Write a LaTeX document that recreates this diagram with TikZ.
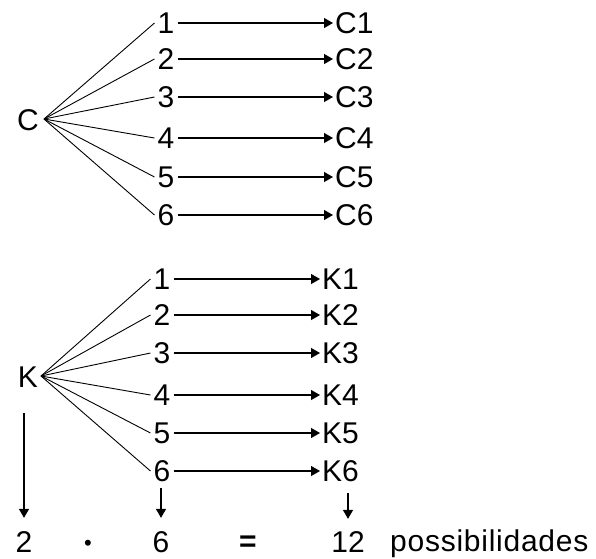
\documentclass[tikz,border=0pt]{standalone}
\usepackage{fontspec}
\setmainfont{Liberation Sans}
\usetikzlibrary{arrows.meta}
\begin{document}
\begin{tikzpicture}[x=1pt,y=-1pt,
 every node/.style={font=\fontsize{30}{36}\selectfont, inner sep=0pt},
 num/.style={inner xsep=3pt, inner ysep=4pt},
 lab/.style={anchor=west, inner sep=2pt},
 fan/.style={line width=0.9pt},
 arr/.style={line width=1.2pt, -{Triangle[length=9pt,width=10pt]}},
 bl/.style={anchor=base}
 ]
\useasboundingbox (0,0) rectangle (596,558);
% top tree
\node (C) at (28,120) {C};
\coordinate (ct) at (44,119);
\foreach \i/\y in {1/23,2/59,3/97,4/138,5/177,6/215} {
  \node[num] (c\i) at (166,\y) {\i};
  \node[lab] (C\i) at (333,\y) {C\i};
  \draw[fan] (ct) -- (c\i.west);
  \draw[arr] (c\i) -- (C\i);
}
% bottom tree
\node (K) at (28,377) {K};
\coordinate (kt) at (41,376);
\foreach \i/\y in {1/279,2/315,3/353,4/395,5/433,6/471} {
  \node[num] (k\i) at (162,\y) {\i};
  \node[lab] (K\i) at (320,\y) {K\i};
  \draw[fan] (kt) -- (k\i.west);
  \draw[arr] (k\i) -- (K\i);
}
% result row
\node[bl] (r2) at (24,552) {2};
\node[bl, font=\fontsize{22}{26}\selectfont] (dot) at (88,550) {•};
\node[bl] (r6) at (161,552) {6};
\node[bl, font=\fontsize{30}{36}\selectfont\bfseries] (eq) at (248,551) {=};
\node[bl] (r12) at (348,552) {12};
\node[anchor=base west, font=\fontsize{30}{36}\selectfont\addfontfeature{LetterSpace=2.5}] (poss) at (390,551) {possibilidades};
\coordinate (ka) at (24,413);
\draw[arr, shorten >=13pt] (ka) -- (r2.north);
\draw[arr, shorten <=2pt, shorten >=13pt] (k6.south -| r6) -- (r6.north);
\draw[arr, shorten <=9pt, shorten >=12pt] (K6.south -| r12) -- (r12.north);
\end{tikzpicture}
\end{document}
